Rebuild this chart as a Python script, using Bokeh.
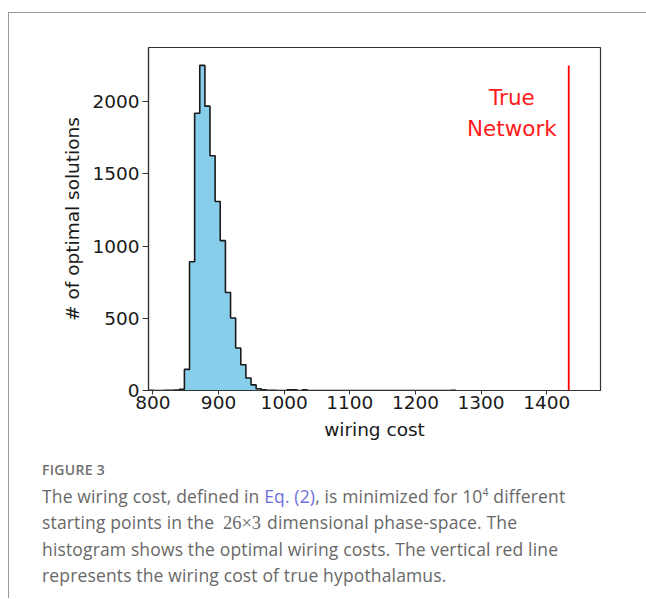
from bokeh.plotting import figure
from bokeh.models import Range1d, Div
from bokeh.layouts import column
from bokeh.embed import file_html
from bokeh.resources import INLINE
from bokeh.core.properties import value

# ---- data ----
bin_edges = [793.3, 801.1, 808.9, 816.7, 824.5, 832.4, 840.2, 848.0, 855.8, 863.6,
             871.4, 879.2, 887.0, 894.8, 902.6, 910.5, 918.3, 926.1, 933.9, 941.7,
             949.5, 957.3, 965.1, 972.9, 980.7, 988.6, 996.4, 1004.2, 1012.0, 1019.8,
             1027.6, 1035.4, 1043.2, 1051.0, 1058.8, 1066.7, 1074.5, 1082.3, 1090.1, 1097.9,
             1105.7, 1113.5, 1121.3, 1129.1, 1136.9, 1144.8, 1152.6, 1160.4, 1168.2, 1176.0,
             1183.8, 1191.6, 1199.4, 1207.2, 1215.0, 1222.9, 1230.7, 1238.5, 1246.3, 1254.1,
             1261.9]
counts = [1, 0, 0, 1, 2, 3, 9, 146, 891, 1919,
          2250, 1968, 1625, 1308, 1037, 678, 502, 294, 178, 86,
          39, 12, 5, 2, 1, 0, 0, 4, 4, 0,
          4, 0, 0, 0, 0, 0, 0, 0, 0, 0,
          0, 0, 0, 0, 0, 0, 0, 0, 0, 0,
          0, 0, 0, 0, 0, 0, 0, 0, 0, 1]
true_network_cost = 1433.6
true_line_top = 2250
x_ticks = [800, 900, 1000, 1100, 1200, 1300, 1400]
y_ticks = [0, 500, 1000, 1500, 2000]
label_x = 1347
label_lines = ["True", "Network"]
label_y = [2028, 1812]

FONT = "DejaVu Sans"

p = figure(width=637, height=435, output_backend="svg", toolbar_location=None,
           x_range=Range1d(793.3, 1482), y_range=Range1d(0, 2374),
           min_border_left=139, min_border_right=46, min_border_top=34, min_border_bottom=58)
p.background_fill_color = "white"
p.border_fill_color = "white"
p.outline_line_color = "#333333"
p.outline_line_width = 1.2
p.grid.visible = False

steps_y = counts + [counts[-1]]
p.varea_step(x=bin_edges, y1=[0] * len(bin_edges), y2=steps_y, step_mode="after",
             fill_color="#87ceeb")
p.step(x=bin_edges, y=steps_y, mode="after", line_color="#1a1a1a", line_width=1.6)

p.segment(x0=[true_network_cost], y0=[0], x1=[true_network_cost], y1=[true_line_top],
          line_color="#ff0000", line_width=1.8)
p.text(x=[label_x] * 2, y=label_y, text=label_lines, text_color="#ff1a1a",
       text_font=value(FONT), text_font_size="21.5px", text_align="center",
       text_baseline="middle")

for ax in (p.xaxis[0], p.yaxis[0]):
    ax.major_label_text_font = FONT
    ax.major_label_text_font_size = "18.5px"
    ax.major_label_text_color = "#1a1a1a"
    ax.axis_label_text_font = FONT
    ax.axis_label_text_font_size = "18.5px"
    ax.axis_label_text_font_style = "normal"
    ax.axis_label_text_color = "#1a1a1a"
    ax.minor_tick_line_color = None
    ax.major_tick_in = 0
    ax.major_tick_line_color = "#333333"
    ax.axis_line_color = "#333333"
    ax.axis_line_width = 1.2

p.xaxis.ticker = x_ticks
p.yaxis.ticker = y_ticks
p.xaxis.axis_label = "wiring cost"
p.yaxis.axis_label = "# of optimal solutions"
p.xaxis.major_tick_out = 4
p.yaxis.major_tick_out = 6
p.xaxis.major_label_standoff = 1
p.yaxis.major_label_standoff = 3
p.xaxis.axis_label_standoff = 7
p.yaxis.axis_label_standoff = 6

caption_html = (
    '<div style="padding-left:28px; padding-top:8px; font-family:\'Open Sans\', sans-serif; '
    'color:#686868; white-space:nowrap;">'
    '<div style="font-size:14px; font-weight:600; color:#707070; line-height:18px; '
    'letter-spacing:0.3px; margin-bottom:4px;">FIGURE 3</div>'
    '<div style="font-size:17.5px; line-height:26px; letter-spacing:0.15px;">'
    'The wiring cost, defined in <span style="color:#6f6fdc">Eq. (2)</span>, is minimized for '
    '10<sup style="font-size:10.5px; line-height:0;">4</sup> different<br>'
    'starting points in the <span style="font-family:\'Liberation Serif\', serif; '
    'font-size:18.5px; padding:0 6px 0 4px; letter-spacing:0;">26&times;3</span>dimensional phase-space. The<br>'
    'histogram shows the optimal wiring costs. The vertical red line<br>'
    'represents the wiring cost of true hypothalamus.'
    '</div></div>'
)
div = Div(text=caption_html, width=637, height=140)

layout = column(p, div, styles={"border-left": "1px solid #9a9a9a",
                                "border-top": "1px solid #9a9a9a",
                                "margin-top": "12px", "margin-left": "8px"})

open("out.html", "w").write(file_html(layout, INLINE))
